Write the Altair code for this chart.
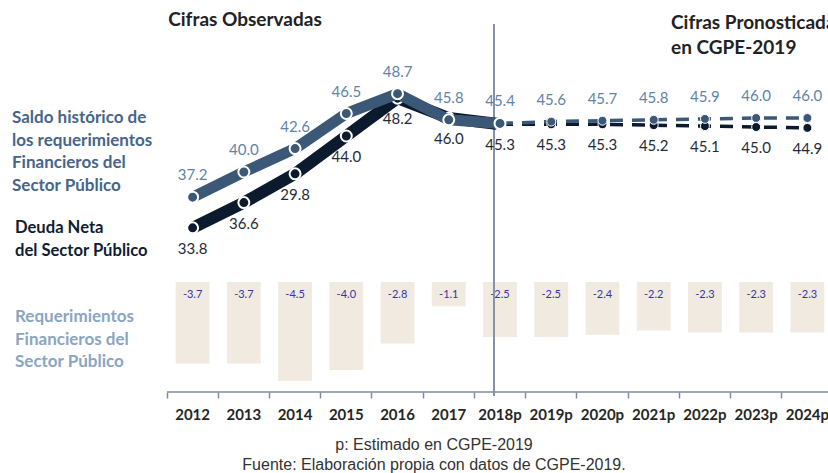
import altair as alt
import pandas as pd

years = ["2012", "2013", "2014", "2015", "2016", "2017", "2018p",
         "2019p", "2020p", "2021p", "2022p", "2023p", "2024p"]
saldo = [37.2, 40.0, 42.6, 46.5, 48.7, 45.8, 45.4, 45.6, 45.7, 45.8, 45.9, 46.0, 46.0]
deuda_labels = ["33.8", "36.6", "29.8", "44.0", "48.2", "46.0", "45.3",
                "45.3", "45.3", "45.2", "45.1", "45.0", "44.9"]
# plotted level of the Deuda Neta points as drawn in the picture (2014 drawn near 39.8)
deuda = [33.8, 36.6, 39.8, 44.0, 48.2, 46.0, 45.3, 45.3, 45.3, 45.2, 45.1, 45.0, 44.9]
rfsp = [-3.7, -3.7, -4.5, -4.0, -2.8, -1.1, -2.5, -2.5, -2.4, -2.2, -2.3, -2.3, -2.3]

df = pd.DataFrame({
    "year": years,
    "idx": list(range(len(years))),
    "saldo": saldo,
    "saldo_lbl": [f"{v:.1f}" for v in saldo],
    "deuda": deuda,
    "deuda_lbl": deuda_labels,
    "rfsp": rfsp,
    "rfsp_lbl": [f"{v:.1f}" for v in rfsp],
})

FONT = "Lato"
C_SALDO = "#3B5877"
C_DEUDA = "#0C1A2E"
C_SALDO_TXT = "#6183A8"
C_DEUDA_TXT = "#1F2B3B"
AXIS_C = "#7C8DA3"

X = alt.X("year:N", sort=years,
          scale=alt.Scale(domain=years, range=[167, 833], paddingInner=0, paddingOuter=0),
          axis=alt.Axis(title=None, labelAngle=0, labelFont=FONT, labelFontSize=15,
                        labelFontWeight="bold", labelColor="#262626", labelPadding=9,
                        domain=False, tickColor=AXIS_C,
                        tickWidth=1.5, tickSize=6, bandPosition=0, grid=False))

Y_LINE = alt.Y("v:Q", scale=alt.Scale(domain=[30, 50], range=[262, 82]), axis=None)
Y_BAR = alt.Scale(domain=[-5, 0], range=[392, 282])

base = alt.Chart(df)

bars = base.mark_bar(color="#F0EAE0", width=alt.RelativeBandSize(0.66)).encode(
    x=X, y=alt.Y("rfsp:Q", scale=Y_BAR, axis=None))
bar_txt = base.mark_text(font=FONT, fontSize=11, color="#3535A3", baseline="middle").encode(
    x=X, y=alt.value(295), text="rfsp_lbl:N")

obs = base.transform_filter("datum.idx <= 6")
fc = base.transform_filter("datum.idx >= 6")


def series(field, color, width, fc_color):
    ln = obs.transform_calculate(v=f"datum.{field}").mark_line(
        color=color, strokeWidth=width, strokeJoin="round", strokeCap="butt").encode(x=X, y=Y_LINE)
    pt = obs.transform_calculate(v=f"datum.{field}").mark_point(
        filled=True, fill=color, stroke="white", strokeWidth=2, size=120, opacity=1).encode(x=X, y=Y_LINE)
    fl = fc.transform_calculate(v=f"datum.{field}").mark_line(
        color=fc_color, strokeWidth=3.5, strokeDash=[13, 9]).encode(x=X, y=Y_LINE)
    fp = fc.transform_calculate(v=f"datum.{field}").mark_point(
        filled=True, fill=fc_color, stroke="white", strokeWidth=1, size=80, opacity=1).encode(x=X, y=Y_LINE)
    return [ln, fl, fp, pt]


deuda_layers = series("deuda", C_DEUDA, 12, C_DEUDA)
saldo_layers = series("saldo", C_SALDO, 11, C_SALDO)

saldo_txt = base.transform_calculate(v="datum.saldo").mark_text(
    font=FONT, fontSize=15, color=C_SALDO_TXT, dy=-22).encode(x=X, y=Y_LINE, text="saldo_lbl:N")
deuda_txt = base.transform_calculate(v="datum.deuda").mark_text(
    font=FONT, fontSize=15, color=C_DEUDA_TXT, dy=21).encode(x=X, y=Y_LINE, text="deuda_lbl:N")

vline = alt.Chart(pd.DataFrame({"year": ["2018p"]})).mark_rule(
    color="#8792A8", strokeWidth=2, xOffset=-6).encode(x=X, y=alt.value(24), y2=alt.value(396))

axis_line = alt.Chart(pd.DataFrame({"a": [0]})).mark_rect(color=AXIS_C).encode(
    x=alt.value(167), x2=alt.value(833), y=alt.value(391.25), y2=alt.value(392.75))

dummy = pd.DataFrame({"a": [0]})


def note(text, x, y, color, size, weight="normal", align="left", font=FONT):
    return alt.Chart(dummy).mark_text(
        text=text, font=font, fontSize=size, fontWeight=weight, color=color,
        align=align, baseline="middle").encode(x=alt.value(x), y=alt.value(y))


notes = [
    note("Cifras Observadas", 245, 20, "#222222", 19, "bold", "center"),
    note("Cifras Pronosticadas", 671, 23, "#222222", 19, "bold"),
    note("en CGPE-2019", 671, 48, "#222222", 19, "bold"),
]
for i, t in enumerate(["Saldo histórico de", "los requerimientos", "Financieros del", "Sector Público"]):
    notes.append(note(t, 12, 118 + i * 22.7, "#46658A", 17, "bold"))
for i, t in enumerate(["Deuda Neta", "del Sector Público"]):
    notes.append(note(t, 15, 228 + i * 22.5, "#0F1D31", 16.6, "bold"))
for i, t in enumerate(["Requerimientos", "Financieros del", "Sector Público"]):
    notes.append(note(t, 15, 317 + i * 22.5, "#8AA5C2", 17, "bold"))
notes.append(note("p: Estimado en CGPE-2019", 434, 445, "#333333", 16, "normal", "center", "Liberation Sans"))
notes.append(note("Fuente: Elaboración propia con datos de CGPE-2019.", 434, 465, "#333333", 16,
                  "normal", "center", "Liberation Sans"))

chart = alt.layer(
    bars, bar_txt, axis_line, vline, *deuda_layers, *saldo_layers, saldo_txt, deuda_txt, *notes
).resolve_scale(y="independent").properties(
    width=828, height=392,
    background="white",
    autosize=alt.AutoSizeParams(type="none"),
    padding={"left": 0, "top": 0, "right": 0, "bottom": 81},
).configure_view(stroke=None, strokeWidth=0)

chart.save("out.html", embed_options={"renderer": "svg", "actions": False})
